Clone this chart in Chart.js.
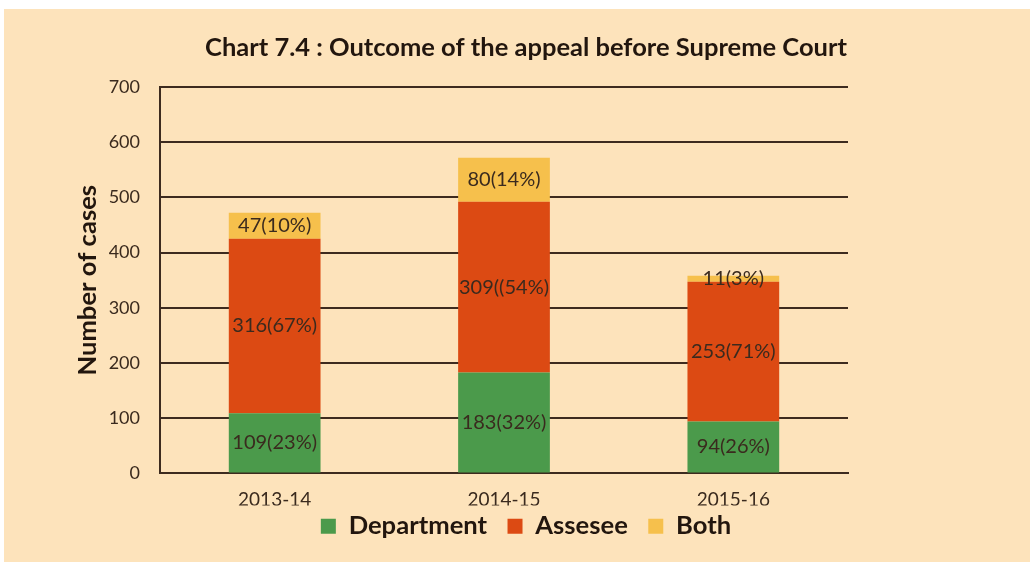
<!DOCTYPE html>
<html>
<head>
<meta charset="utf-8">
<script src="https://cdn.jsdelivr.net/npm/chart.js@4"></script>
<style>
    body { margin: 0; background: #ffffff; }
    #wrap { position: absolute; left: 4px; top: 9px; width: 1026px; height: 553px; background: #fde3bb; }
</style>
</head>
<body>
<div id="wrap"><canvas id="appealChart"></canvas></div>
<script>
// Chart data
const years = ['2013-14', '2014-15', '2015-16'];
const departmentCases = [109, 183, 94];
const asseseeCases = [316, 309, 253];
const bothCases = [47, 80, 11];

// Labels printed inside the bars (as in the source, typo included)
const departmentLabels = ['109(23%)', '183(32%)', '94(26%)'];
const asseseeLabels = ['316(67%)', '309((54%)', '253(71%)'];
const bothLabels = ['47(10%)', '80(14%)', '11(3%)'];

const yTicks = [0, 100, 200, 300, 400, 500, 600, 700];

const inkColor = '#3a2a1e';
const titleColor = '#22160e';
const lineColor = '#3d2b1f';
const fontFamily = 'Lato, "Open Sans", sans-serif';

// Draw the value labels in the middle of each bar segment
const segmentLabels = {
    id: 'segmentLabels',
    afterDatasetsDraw(chart) {
        const ctx = chart.ctx;
        ctx.save();
        ctx.font = '20px ' + fontFamily;
        ctx.fillStyle = inkColor;
        ctx.textAlign = 'center';
        ctx.textBaseline = 'middle';
        chart.data.datasets.forEach((ds, i) => {
            chart.getDatasetMeta(i).data.forEach((bar, j) => {
                const p = bar.getCenterPoint();
                ctx.fillText(ds.segmentText[j], p.x, p.y);
            });
        });
        ctx.restore();
    }
};

new Chart(document.getElementById('appealChart'), {
    type: 'bar',
    data: {
        labels: years,
        datasets: [
            { label: 'Department', data: departmentCases, segmentText: departmentLabels, backgroundColor: '#4b9a4b' },
            { label: 'Assesee', data: asseseeCases, segmentText: asseseeLabels, backgroundColor: '#dc4a13' },
            { label: 'Both', data: bothCases, segmentText: bothLabels, backgroundColor: '#f6c04c' }
        ]
    },
    options: {
        responsive: true,
        maintainAspectRatio: false,
        animation: false,
        layout: { padding: { left: 18, right: 0, top: 0, bottom: 13 } },
        datasets: {
            bar: { barPercentage: 0.4, categoryPercentage: 1 }
        },
        plugins: {
            title: {
                display: true,
                text: 'Chart 7.4 : Outcome of the appeal before Supreme Court',
                color: titleColor,
                font: { family: fontFamily, size: 25.5, weight: 'bold' },
                padding: { top: 23, bottom: 24.4 }
            },
            legend: {
                position: 'bottom',
                labels: {
                    color: titleColor,
                    font: { family: fontFamily, size: 25.6, weight: 'bold', lineHeight: 1 },
                    boxWidth: 15,
                    boxHeight: 15,
                    padding: 8,
                    // a little extra room after the first two entries, like the original
                    generateLabels(chart) {
                        const items = Chart.defaults.plugins.legend.labels.generateLabels(chart);
                        items.forEach((item, i) => {
                            if (i < items.length - 1) item.text += '  ';
                        });
                        return items;
                    }
                }
            },
            tooltip: { enabled: false }
        },
        scales: {
            x: {
                stacked: true,
                grid: { display: false },
                border: { display: true, color: lineColor, width: 2 },
                ticks: { color: inkColor, font: { family: fontFamily, size: 19, lineHeight: 1 }, padding: 9 },
                afterFit(scale) { scale.height = 32; }
            },
            y: {
                stacked: true,
                min: 0,
                max: 700,
                afterBuildTicks(scale) { scale.ticks = yTicks.map(v => ({ value: v })); },
                grid: { color: lineColor, lineWidth: 2, drawTicks: false },
                border: { display: true, color: lineColor, width: 2 },
                ticks: { color: inkColor, font: { family: fontFamily, size: 18 }, padding: 20 },
                title: {
                    display: true,
                    text: 'Number of cases',
                    color: titleColor,
                    font: { family: fontFamily, size: 25.6, weight: 'bold' },
                    padding: { top: 50, bottom: 0 }
                },
                afterFit(scale) { scale.width = 138; }
            },
            // empty right-hand strip, keeps the plot narrower than the panel
            yRight: {
                position: 'right',
                display: true,
                grid: { display: false, drawTicks: false },
                border: { display: false },
                ticks: { display: false },
                afterFit(scale) { scale.width = 182; }
            }
        }
    },
    plugins: [segmentLabels]
});
</script>
</body>
</html>
